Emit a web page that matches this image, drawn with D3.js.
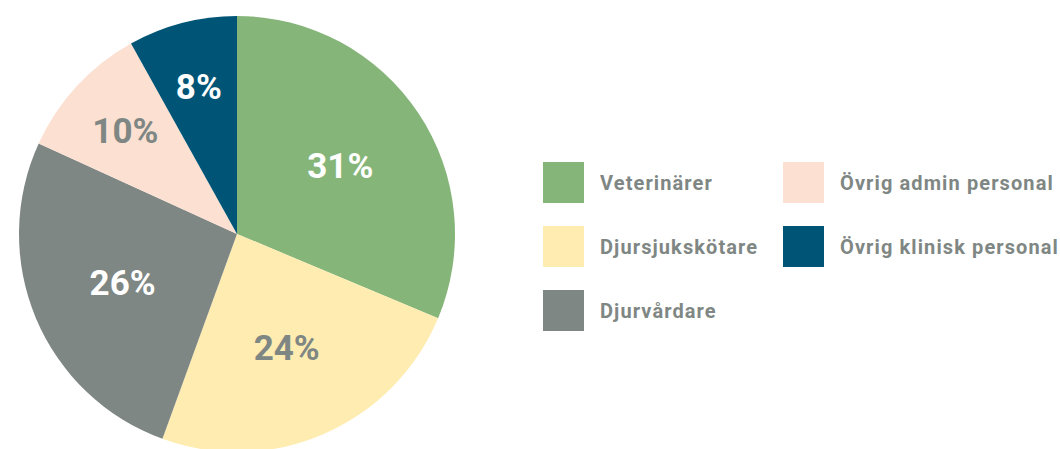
<!DOCTYPE html>
<html><head><meta charset="utf-8">
<script src="https://cdn.jsdelivr.net/npm/d3@7/dist/d3.min.js"></script>
<style>body{margin:0;background:#fff}svg{display:block}</style>
</head><body>
<svg id="c" width="1060" height="449"></svg>
<script>
const categories = ["Veterinärer","Djursjukskötare","Djurvårdare","Övrig admin personal","Övrig klinisk personal"];
const values = [31,24,26,10,8];
const colors = ["#86b57a","#feecb0","#7f8784","#fce0d1","#005576"];
const labelColors = ["#ffffff","#7f8784","#ffffff","#7f8784","#ffffff"];
const labels = ["31%","24%","26%","10%","8%"];

const svg = d3.select("#c");
const cx = 237, cy = 234, R = 218;
const data = categories.map((c,i)=>({cat:c, v:values[i], i}));
const pie = d3.pie().value(d=>d.v).sort(null);
const arcs = pie(data);
const arc = d3.arc().innerRadius(0).outerRadius(R);
const g = svg.append("g").attr("transform",`translate(${cx},${cy})`);
g.selectAll("path").data(arcs).join("path")
  .attr("d",arc).attr("fill",d=>colors[d.data.i]);
const lblArc = d=>{const r = d.data.v<15?152:124; return d3.arc().innerRadius(r).outerRadius(r).centroid(d);};
g.selectAll("text").data(arcs).join("text")
  .attr("transform",d=>`translate(${lblArc(d)})`)
  .attr("text-anchor","middle").attr("dy","0.36em")
  .attr("font-family","Roboto, sans-serif").attr("font-weight","bold").attr("font-size",35)
  .attr("fill",d=>labelColors[d.data.i]).text(d=>labels[d.data.i]);

// legend
const legPos = [[543,162],[543,226],[543,290],[783,162],[783,226]];
const lg = svg.append("g").selectAll("g").data(data).join("g")
  .attr("transform",d=>`translate(${legPos[d.i][0]},${legPos[d.i][1]})`);
lg.append("rect").attr("width",41).attr("height",41).attr("fill",d=>colors[d.i]);
lg.append("text").attr("x",57).attr("y",28)
  .attr("font-family","Roboto, sans-serif").attr("font-weight","bold").attr("font-size",20)
  .attr("letter-spacing","1.1px")
  .attr("fill","#7f8784").text(d=>d.cat);
</script>
</body></html>
